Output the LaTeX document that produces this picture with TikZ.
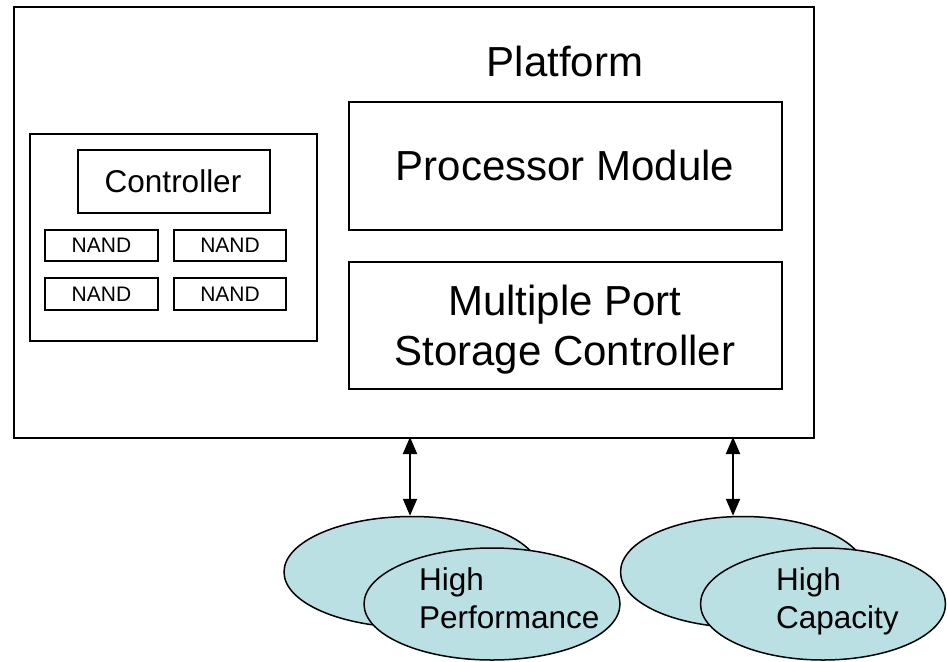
\documentclass[tikz,border=0pt]{standalone}
\usepackage{fontspec}
\setmainfont{Liberation Sans}
\usetikzlibrary{shapes.geometric,arrows.meta}
\definecolor{poolfill}{RGB}{187,224,227}
\begin{document}
\begin{tikzpicture}[x=1pt,y=-1pt,
  box/.style={draw,line width=2pt,rectangle,inner sep=0pt,anchor=north west},
  pool/.style={draw,line width=1.5pt,ellipse,fill=poolfill,inner sep=0pt},
  big/.style={font=\fontsize{42}{50}\selectfont},
  mid/.style={font=\fontsize{31.5}{38}\selectfont},
  small/.style={font=\fontsize{21}{24}\selectfont},
  link/.style={line width=2pt,{Triangle[width=14pt,length=17pt]}-{Triangle[width=14pt,length=17pt]}}]
\useasboundingbox (0,0) rectangle (947,661);

% platform enclosure
\node[box,minimum width=800pt,minimum height=431pt] (platform) at (13,6) {};
\node[big,anchor=base] (ptitle) at (565,77) {Platform};

% flash card with controller and NAND chips
\node[box,minimum width=287pt,minimum height=207pt] (card) at (29,133) {};
\node[box,mid,minimum width=192pt,minimum height=63pt] (ctrl) at (77,149) {};
\node[mid,anchor=base] (ctrltxt) at (173,192) {Controller};
\node[box,minimum width=113pt,minimum height=31pt] (n1) at (44,229) {};
\node[box,minimum width=112pt,minimum height=31pt] (n2) at (173,229) {};
\node[box,minimum width=113pt,minimum height=32pt] (n3) at (44,277) {};
\node[box,minimum width=112pt,minimum height=32pt] (n4) at (173,277) {};
\node[small,anchor=base] at (n1.center |- 0,252) {NAND};
\node[small,anchor=base] at (n2.center |- 0,252) {NAND};
\node[small,anchor=base] at (n3.center |- 0,301) {NAND};
\node[small,anchor=base] at (n4.center |- 0,301) {NAND};

% processor and storage controller
\node[box,minimum width=433pt,minimum height=128pt] (cpu) at (348,101) {};
\node[big,anchor=base] at (565,180) {Processor Module};
\node[box,minimum width=433pt,minimum height=127pt] (msc) at (348,261) {};
\node[big,anchor=base] at (565,315) {Multiple Port};
\node[big,anchor=base] at (565,365) {Storage Controller};

% storage pools
\node[pool,minimum width=256pt,minimum height=111pt] (hpback) at (412,572) {};
\node[pool,minimum width=256pt,minimum height=112pt] (hpfront) at (492,604) {};
\node[mid,anchor=base west,inner sep=0pt] at (419,590) {High};
\node[mid,anchor=base west,inner sep=0pt] at (419,628) {Performance};

\node[pool,minimum width=245pt,minimum height=111pt] (hcback) at (743,572) {};
\node[pool,minimum width=245pt,minimum height=112pt] (hcfront) at (823,604) {};
\node[mid,anchor=base west,inner sep=0pt] at (776,590) {High};
\node[mid,anchor=base west,inner sep=0pt] at (776,628) {Capacity};

% links between platform and pools
\coordinate (p1) at (410,437);
\coordinate (p2) at (733,437);
\draw[link] (p1) -- (p1 |- hpback.north);
\draw[link] (p2) -- (p2 |- hcback.north);
\end{tikzpicture}
\end{document}
